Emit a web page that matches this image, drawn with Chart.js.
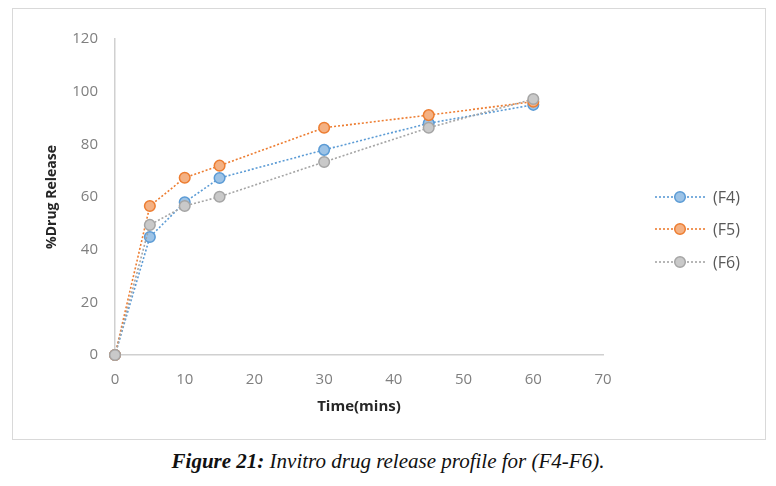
<!DOCTYPE html>
<html>
<head>
<meta charset="utf-8">
<script src="https://cdn.jsdelivr.net/npm/chart.js@4"></script>
<style>
  html, body { margin: 0; padding: 0; background: #fff; }
  #box { position: absolute; left: 12px; top: 8px; width: 752px; height: 430px; border: 1px solid #d9d9d9; }
  #caption { position: absolute; left: 0; top: 449px; width: 776px; text-align: center;
    font-family: "Liberation Serif", "DejaVu Serif", serif; font-style: italic; font-size: 21px; color: #111; }
  #caption b { font-weight: bold; }
</style>
</head>
<body>
<div id="box"><canvas id="c" width="752" height="430"></canvas></div>
<div id="caption"><b>Figure 21:</b> Invitro drug release profile for (F4-F6).</div>
<script>
const times = [0, 5, 10, 15, 30, 45, 60];
const seriesNames = ["(F4)", "(F5)", "(F6)"];
const f4 = [0, 44.8, 58.0, 67.2, 77.9, 88.0, 95.0];
const f5 = [0, 56.6, 67.3, 71.9, 86.3, 91.1, 96.2];
const f6 = [0, 49.4, 56.6, 60.1, 73.3, 86.3, 97.2];
const xTicks = [0, 10, 20, 30, 40, 50, 60, 70];
const yTicks = [0, 20, 40, 60, 80, 100, 120];

const lineColors = ["#5B9BD5", "#ED7D31", "#A5A5A5"];
const fillColors = ["#9DC3E6", "#F4B183", "#C9C9C9"];
const values = [f4, f5, f6];

const datasets = values.map((v, i) => ({
  label: seriesNames[i],
  data: times.map((t, j) => ({ x: t, y: v[j] })),
  borderColor: lineColors[i],
  backgroundColor: fillColors[i],
  pointBackgroundColor: fillColors[i],
  pointBorderColor: lineColors[i],
  pointBorderWidth: 1.5,
  pointRadius: 5.3,
  borderWidth: 1.6,
  borderDash: [2, 2],
  tension: 0,
  clip: false,
  order: 3 - i
}));

const legendPlugin = {
  id: 'sideLegend',
  afterDraw(chart) {
    const ctx = chart.ctx;
    const ys = [188, 220, 253];
    chart.data.datasets.forEach((ds, i) => {
      const y = ys[i];
      ctx.save();
      ctx.strokeStyle = ds.borderColor;
      ctx.lineWidth = 1.6;
      ctx.setLineDash([2, 2]);
      ctx.beginPath();
      ctx.moveTo(642, y);
      ctx.lineTo(692, y);
      ctx.stroke();
      ctx.setLineDash([]);
      ctx.beginPath();
      ctx.arc(667, y, 5.3, 0, Math.PI * 2);
      ctx.fillStyle = ds.pointBackgroundColor;
      ctx.fill();
      ctx.lineWidth = 1.5;
      ctx.strokeStyle = ds.pointBorderColor;
      ctx.stroke();
      ctx.fillStyle = '#595959';
      ctx.font = '16px "Open Sans"';
      ctx.textBaseline = 'middle';
      ctx.textAlign = 'left';
      ctx.fillText(ds.label, 700, y + 1);
      ctx.restore();
    });
  }
};

new Chart(document.getElementById('c'), {
  type: 'line',
  data: { datasets },
  options: {
    responsive: false,
    animation: false,
    layout: { padding: { left: 0, right: 162, top: 30, bottom: 0 } },
    plugins: { legend: { display: false }, tooltip: { enabled: false } },
    scales: {
      x: {
        type: 'linear', min: 0, max: 70,
        afterBuildTicks: s => { s.ticks = xTicks.map(v => ({ value: v })); },
        afterFit: s => { s.height = 84; },
        grid: { display: false, drawTicks: false },
        border: { display: true, color: '#d0d0d0', width: 1.5 },
        ticks: { color: '#7f7f7f', font: { family: 'Open Sans', size: 15 }, padding: 16, maxRotation: 0 },
        title: { display: true, text: 'Time(mins)', color: '#262626',
          font: { family: 'Open Sans', size: 15, weight: 'bold' }, padding: { top: 0, bottom: 23 } }
      },
      y: {
        min: 0, max: 120,
        afterBuildTicks: s => { s.ticks = yTicks.map(v => ({ value: v })); },
        afterFit: s => { s.width = 102; },
        grid: { display: false, drawTicks: false },
        border: { display: true, color: '#d0d0d0', width: 1.5 },
        ticks: { color: '#7f7f7f', font: { family: 'Open Sans', size: 15 }, padding: 17 },
        title: { display: true, text: '%Drug Release', color: '#262626',
          font: { family: 'Open Sans', size: 14, weight: 'bold' }, padding: { top: 31, bottom: 0 } }
      }
    }
  },
  plugins: [legendPlugin]
});
</script>
</body>
</html>
